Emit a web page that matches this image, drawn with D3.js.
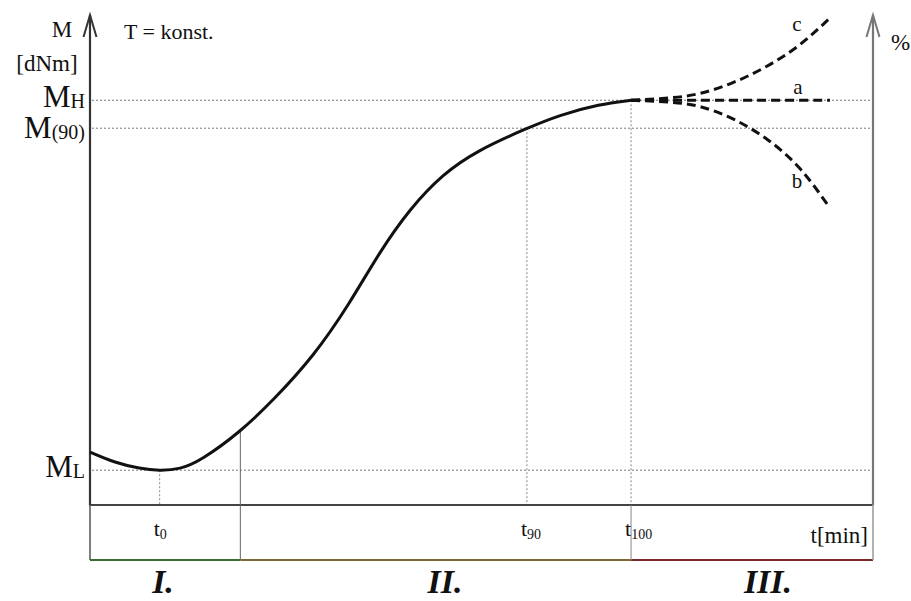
<!DOCTYPE html>
<html>
<head>
<meta charset="utf-8">
<script src="https://cdn.jsdelivr.net/npm/d3@7"></script>
<style>
  body { margin: 0; background: #fff; }
  svg text { font-family: "Liberation Serif", "Times New Roman", serif; fill: #111; }
</style>
</head>
<body>
<div id="chart-area"></div>
<script>
// curve data, t and M in relative units (0..100)
var curveT = [0, 3.2, 6.4, 8.9, 11.5, 14.1, 19.2, 23.4, 28.5, 33.2, 36.8, 40.9, 45.1, 49.4, 55.8, 60.0, 65.1, 69.1];
var curveM = [10.8, 8.6, 7.4, 7.0, 7.3, 9.0, 14.9, 21.4, 30.2, 41.2, 51.2, 60.6, 67.6, 72.3, 76.9, 79.6, 81.8, 82.6];

var branchT = [69.1, 74.1, 77.9, 82.1, 86.5, 90.7, 94.5];
var branchA = [82.6, 82.6, 82.6, 82.6, 82.6, 82.6, 82.6];
var branchB = [82.6, 82.2, 81.3, 78.8, 74.6, 68.6, 60.6];
var branchC = [82.6, 83.1, 84.0, 86.2, 89.6, 94.0, 99.4];
var branchLabels = ["a", "b", "c"];

var mLevels = [82.6, 76.9, 7.1];   // MH, M(90), ML
var tMarks = [8.9, 55.8, 69.1];    // t0, t90, t100
var tSubs = ["0", "90", "100"];
var phaseEdges = [0, 19.2, 69.1, 100];
var phaseNames = ["I.", "II.", "III."];
var phaseColors = ["#3d6b34", "#7a6a3a", "#7a2a2a"];

var width = 911, height = 601;
var svg = d3.select("#chart-area").append("svg")
	.attr("width", width).attr("height", height)
	.attr("font-family", "'Liberation Serif', serif");

var x = d3.scaleLinear().domain([0, 100]).range([90, 873]);
var y = d3.scaleLinear().domain([0, 100]).range([505, 15]);
var yBox = 560;

// reference dotted lines
svg.selectAll(".hline").data(mLevels).enter().append("line")
	.attr("x1", x(0) + 2).attr("x2", x(100))
	.attr("y1", d => y(d)).attr("y2", d => y(d))
	.attr("stroke", "#777").attr("stroke-width", 1).attr("stroke-dasharray", "2,2");

var vTop = [mLevels[2], mLevels[1], mLevels[0]];
svg.selectAll(".vline").data(tMarks).enter().append("line")
	.attr("x1", d => x(d)).attr("x2", d => x(d))
	.attr("y1", (d, i) => y(vTop[i])).attr("y2", y(0))
	.attr("stroke", "#888").attr("stroke-width", 1).attr("stroke-dasharray", "2,2");

// bottom box
svg.append("line").attr("x1", x(0)).attr("x2", x(100)).attr("y1", y(0)).attr("y2", y(0))
	.attr("stroke", "#444").attr("stroke-width", 2);
svg.selectAll(".phase").data(phaseNames).enter().append("line")
	.attr("x1", (d, i) => x(phaseEdges[i])).attr("x2", (d, i) => x(phaseEdges[i + 1]))
	.attr("y1", yBox).attr("y2", yBox)
	.attr("stroke", (d, i) => phaseColors[i]).attr("stroke-width", 2);
svg.append("line").attr("x1", x(0)).attr("x2", x(0)).attr("y1", y(0)).attr("y2", yBox)
	.attr("stroke", "#555").attr("stroke-width", 1.5);
svg.append("line").attr("x1", x(phaseEdges[1])).attr("x2", x(phaseEdges[1]))
	.attr("y1", y(curveM[6])).attr("y2", yBox)
	.attr("stroke", "#666").attr("stroke-width", 1);
svg.append("line").attr("x1", x(tMarks[2])).attr("x2", x(tMarks[2]))
	.attr("y1", y(0)).attr("y2", yBox)
	.attr("stroke", "#888").attr("stroke-width", 1);
svg.append("line").attr("x1", x(100)).attr("x2", x(100)).attr("y1", y(0)).attr("y2", yBox)
	.attr("stroke", "#999").attr("stroke-width", 1.5);

// axes with open arrow heads
function axisArrow(px, col) {
	svg.append("line").attr("x1", px).attr("x2", px).attr("y1", y(0)).attr("y2", y(100))
		.attr("stroke", col).attr("stroke-width", 2.2);
	svg.append("path")
		.attr("d", "M" + (px - 6.5) + "," + (y(100) + 22) + "L" + px + "," + y(100) + "L" + (px + 6.5) + "," + (y(100) + 22))
		.attr("fill", "none").attr("stroke", col).attr("stroke-width", 2);
}
axisArrow(x(0), "#333");
axisArrow(x(100), "#777");

// main curve
var line = d3.line().x(d => x(d[0])).y(d => y(d[1])).curve(d3.curveBasis);
svg.append("path").datum(d3.zip(curveT, curveM))
	.attr("d", line).attr("fill", "none").attr("stroke", "#111").attr("stroke-width", 3);

// dashed branches
var branches = [branchA, branchB, branchC];
var bline = d3.line().x(d => x(d[0])).y(d => y(d[1])).curve(d3.curveNatural);
svg.selectAll(".branch").data(branches).enter().append("path")
	.attr("d", d => bline(d3.zip(branchT, d)))
	.attr("fill", "none").attr("stroke", "#111").attr("stroke-width", 3)
	.attr("stroke-dasharray", "9,5");

svg.append("text").attr("x", 798).attr("y", 94).attr("text-anchor", "middle").attr("font-size", 21).text(branchLabels[0]);
svg.append("text").attr("x", 797).attr("y", 188).attr("text-anchor", "middle").attr("font-size", 21).text(branchLabels[1]);
svg.append("text").attr("x", 797).attr("y", 31).attr("text-anchor", "middle").attr("font-size", 21).text(branchLabels[2]);

// y labels
svg.append("text").attr("x", 62).attr("y", 37).attr("text-anchor", "middle").attr("font-size", 23).text("M");
svg.append("text").attr("x", 47).attr("y", 71).attr("text-anchor", "middle").attr("font-size", 23).text("[dNm]");
svg.append("text").attr("x", 124).attr("y", 39).attr("font-size", 22).text("T = konst.");
svg.append("text").attr("x", 891).attr("y", 50).attr("font-size", 23).text("%");

var mSubs = ["H", "(90)", "L"];
var mOff = [7, 10, 7];
svg.selectAll(".mlab").data(mLevels).enter().append("text")
	.attr("x", 85).attr("y", (d, i) => y(d) + mOff[i]).attr("text-anchor", "end")
	.attr("font-size", 31)
	.each(function(d, i) {
		var t = d3.select(this);
		t.append("tspan").text("M");
		t.append("tspan").attr("font-size", 20).attr("dy", 1).text(mSubs[i]);
	});

// t labels
svg.selectAll(".tlab").data(tMarks).enter().append("text")
	.attr("x", d => x(d) - 6).attr("y", 536)
	.attr("font-size", 22)
	.each(function(d, i) {
		var t = d3.select(this);
		t.append("tspan").text("t");
		t.append("tspan").attr("font-size", 14).attr("dy", 3).text(tSubs[i]);
	});
svg.append("text").attr("x", 868).attr("y", 543).attr("text-anchor", "end").attr("font-size", 23).text("t[min]");

// phase labels
var phaseX = [163, 445, 768];
svg.selectAll(".plab").data(phaseNames).enter().append("text")
	.attr("x", (d, i) => phaseX[i]).attr("y", 593).attr("text-anchor", "middle")
	.attr("font-size", 34).attr("font-weight", "bold").attr("font-style", "italic")
	.text(d => d);
</script>
</body>
</html>
